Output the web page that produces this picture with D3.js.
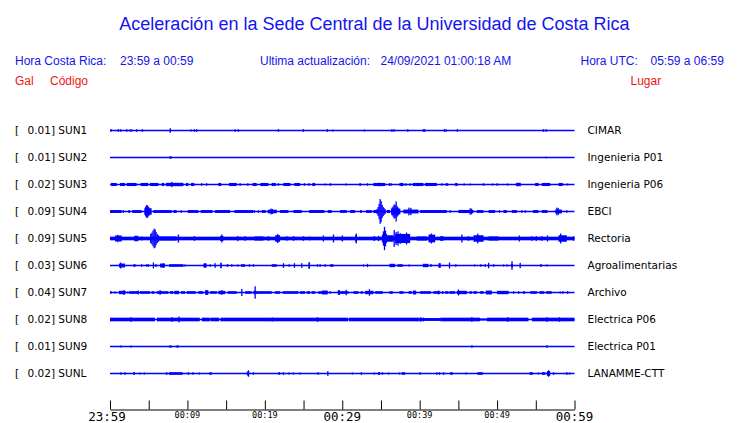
<!DOCTYPE html>
<html><head><meta charset="utf-8">
<script src="https://cdn.jsdelivr.net/npm/d3@7"></script>
<style>
body{margin:0;background:#fff;}
svg{display:block;}
</style></head>
<body>
<svg id="c" width="740" height="423"></svg>
<script>
// ---- data ----
const codes  = ["SUN1","SUN2","SUN3","SUN4","SUN5","SUN6","SUN7","SUN8","SUN9","SUNL"];
const scales = ["0.01","0.01","0.02","0.09","0.09","0.03","0.04","0.02","0.01","0.02"];
const places = ["CIMAR","Ingenieria P01","Ingenieria P06","EBCI","Rectoria","Agroalimentarias","Archivo","Electrica P06","Electrica P01","LANAMME-CTT"];
const tickMinutes = [0,5,10,15,20,25,30,35,40,45,50,55,60];
const tickLabels  = {0:"23:59",10:"00:09",20:"00:19",30:"00:29",40:"00:39",50:"00:49",60:"00:59"};
const majorTicks  = [0,30,60];

// trace envelopes: minutes since 23:59, amplitude in % of full scale
// [t, amp] = single spike, [t0, t1, amp] = burst
const sun1 = [[0.13,10],[1.07,10],[1.38,10],[2.16,10],[2.49,2.88,8],[3.45,10],[4.17,10],[7.7,7.85,18],[10.47,8],[10.89,10],[11.2,10],[16.15,10],[16.58,10],[21.75,10],[24.97,10],[28.07,10],[28.77,8],[32.86,8],[36.4,10],[36.69,10],[38.46,10],[40.4,40.74,10],[43.19,10],[43.41,10],[44.87,10],[55.98,10],[56.33,10]];
const sun2 = [[7.7,7.95,10],[56.33,6]];
const sun3 = [[0.13,0.86,12],[1.29,1.94,12],[2.15,3.44,12],[3.96,4.95,12],[5.17,6.25,12],[6.68,7.02,12],[7.24,9.48,13],[7.97,20],[9.82,10.12,12],[10.47,10.9,12],[11.84,10],[12.49,10],[14.0,14.35,12],[15.38,16.37,12],[16.8,10],[17.79,10],[18.43,18.95,12],[19.43,20.46,12],[20.89,21.41,12],[21.75,10],[22.4,23.3,12],[23.82,24.55,12],[25.11,10],[25.71,10],[26.14,26.49,12],[27.78,8],[28.47,10],[30.5,8],[32.22,32.39,12],[33.25,10],[34.03,35.54,12],[34.8,14],[36.1,10],[36.31,10],[37.39,37.91,12],[38.21,10],[38.77,10],[39.11,40.49,12],[40.7,42.21,12],[42.86,10],[43.42,10],[43.59,10],[44.58,44.88,12],[45.74,8],[46.52,8],[48.24,10],[49.41,8],[50.01,10],[51.34,8],[52.46,53.07,13],[54.92,55.35,12],[55.78,56.86,12],[57.94,58.5,12],[59.1,8]];
const sun4 = [[0.0,1.51,11],[1.72,10],[2.37,2.58,11],[2.88,4.09,11],[4.43,5.38,25],[4.6,38],[4.74,50],[4.87,46],[5.0,35],[5.6,7.97,11],[8.18,8.61,11],[9.18,10],[10.04,11.41,11],[11.72,13.22,11],[13.57,15.51,11],[16.07,18.52,11],[18.65,10],[19.17,10],[19.6,20.11,11],[20.37,21.54,14],[20.8,22],[20.95,20],[21.97,23.05,11],[23.69,24.77,11],[25.72,27.7,11],[28.13,28.64,11],[29.72,30.58,11],[31.01,31.66,11],[32.3,32.52,11],[33.08,33.81,11],[34.03,34.55,12],[34.5,20],[34.63,35],[34.76,60],[34.89,95],[35.02,80],[35.15,50],[35.28,35],[35.41,25],[35.54,18],[35.75,36.18,12],[36.3,37.5,22],[36.44,30],[36.57,40],[36.7,55],[36.83,50],[36.96,77],[37.09,40],[37.22,30],[37.9,39.84,15],[38.6,30],[38.85,28],[40.06,43.5,11],[43.94,10],[45.01,46.95,12],[46.52,25],[46.7,22],[47.38,48.24,11],[48.89,49.75,11],[50.31,10],[50.83,51.26,11],[51.9,52.55,11],[53.2,10],[53.63,10],[54.62,55.35,11],[55.78,56.51,11],[57.5,58.37,15],[57.72,30],[57.9,26],[59.0,10]];
const sun5 = [[0,60,14],[0.64,1.51,23],[1.0,28],[3.14,3.66,21],[4.09,15],[5.25,35],[5.4,45],[5.55,60],[5.7,75],[5.82,70],[5.95,50],[6.1,35],[6.25,25],[6.25,8.61,16],[8.83,31],[10.9,18],[14.22,14.65,20],[14.44,31],[16.5,20],[17.45,18],[18.65,19.82,16],[20.46,18],[21.33,21.97,25],[21.66,35],[22.83,18],[23.69,18],[24.98,18],[25.84,15],[27.56,23],[28.86,31],[30.02,23],[29.94,15],[31.66,31.88,25],[31.8,38],[34.03,34.25,18],[34.68,20],[35.2,30],[35.32,55],[35.45,90],[35.58,60],[35.7,35],[35.75,36.62,25],[36.83,38.77,35],[36.7,65],[36.95,50],[37.2,55],[37.5,40],[38.3,46],[39.63,40.93,16],[41.14,42.0,30],[41.5,38],[42.65,43.08,18],[45.45,31],[46.3,18],[46.96,48.25,25],[47.5,38],[48.9,50.19,16],[52.87,23],[54.5,18],[55.05,18],[55.78,18],[56.51,23],[57.94,59.01,25],[58.2,38],[59.87,18]];
const sun6 = [[1.16,1.94,15],[1.38,23],[3.01,3.31,10],[4.0,4.18,10],[4.74,10],[4.95,10],[5.6,23],[5.82,6.03,10],[6.46,7.11,15],[6.89,18],[7.62,9.48,10],[9.69,8],[12.06,12.49,15],[12.28,18],[12.93,10],[13.57,18],[14.22,14.44,21],[15.08,15.3,10],[15.73,10],[16.5,8],[16.93,17.45,10],[18.01,10],[18.52,10],[20.89,21.54,10],[22.4,18],[23.13,10],[23.82,18],[24.76,18],[25.62,25.84,25],[26.79,10],[27.13,10],[27.78,10],[28.43,28.86,10],[32.74,8],[33.25,13],[36.1,36.83,13],[37.13,37.82,10],[38.64,8],[40.41,41.14,13],[41.36,41.57,10],[42.43,42.73,18],[43.85,23],[44.67,10],[47.09,8],[47.9,10],[48.47,10],[48.9,21],[49.55,10],[50.84,8],[51.27,8],[51.8,52.05,12],[51.92,33],[52.98,21],[55.57,55.78,10],[56.43,8]];
const sun7 = [[0,0.21,10],[0.64,8],[1.16,2.02,13],[1.81,18],[2.28,8],[2.45,3.66,10],[3.66,15],[3.87,5.17,10],[5.38,5.73,10],[6.03,7.54,10],[6.46,18],[7.75,8.18,10],[8.31,8.91,13],[9.18,9.69,10],[9.91,11.07,10],[11.41,12.06,10],[12.28,12.71,18],[12.93,13.79,10],[14.0,14.87,13],[14.44,18],[15.21,16.37,10],[17.02,27],[17.45,18.31,10],[18.52,18.95,13],[18.74,48],[18.95,20.89,10],[21.33,21.97,10],[22.32,24.33,10],[24.55,25.19,10],[25.41,25.84,10],[26.05,26.49,10],[26.92,27.35,10],[27.35,28.13,15],[28.43,10],[29.42,29.72,18],[30.02,10],[29.72,30.8,10],[30.5,21],[31.44,32.09,10],[32.39,32.65,10],[32.95,34.03,13],[33.51,25],[34.25,35.24,10],[36.1,36.53,10],[37.39,37.91,10],[38.56,38.99,10],[39.12,39.55,15],[40.06,41.44,10],[41.78,42.65,10],[42.43,15],[42.86,43.08,10],[43.29,43.72,10],[43.85,44.58,10],[44.8,46.09,13],[45.01,23],[46.44,46.74,10],[46.96,47.39,10],[47.82,48.25,10],[48.55,49.33,15],[49.98,51.49,13],[52.13,10],[52.78,10],[53.33,53.63,10],[54.29,55.14,10],[55.48,56.09,10],[56.34,57.07,10],[58.15,8],[58.49,10],[59.1,10]];
const sun8 = [[0,5.8,14],[6.05,11.6,14],[11.85,12.9,14],[12.97,14.1,14],[14.26,30.75,14],[30.85,40.0,14],[40.0,42.65,11],[42.65,47.8,14],[47.8,48.7,8],[48.7,54.05,14],[54.5,60,14],[2.71,18],[7.97,18],[8.91,23],[20.97,15],[26.79,18],[40.15,18],[40.49,15],[46.74,18],[51.36,18],[56.43,18],[58.06,18]];
const sun9 = [[1.42,8],[2.71,8],[7.62,7.97,8],[8.61,8.83,10],[46.74,10],[56.43,10]];
const sunl = [[1.42,10],[1.85,2.02,10],[3.01,3.23,10],[3.87,8],[4.43,8],[7.32,10],[7.62,9.39,10],[10.04,10.21,10],[10.64,10.81,10],[11.54,8],[12.84,13.14,10],[17.67,17.97,15],[17.88,25],[18.52,10],[21.75,21.97,10],[22.4,10],[23.13,8],[23.69,8],[24.55,8],[26.79,26.92,10],[28.13,18],[31.31,8],[32.39,32.52,10],[34.12,8],[34.59,34.89,10],[35.19,10],[35.97,8],[37.39,8],[37.69,38.12,10],[40.06,10],[42.21,10],[42.56,10],[43.08,10],[43.94,44.28,10],[46.0,8],[47.47,48.16,10],[54.2,54.62,10],[55.35,8],[55.78,56.22,10],[56.43,56.86,18],[56.65,25],[57.29,10],[59.01,10],[59.36,8]];
const traces = [sun1,sun2,sun3,sun4,sun5,sun6,sun7,sun8,sun9,sunl];

// ---- drawing ----
const svg = d3.select("#c");
const BLUE = "#0000ff", TBLUE = "#1414f0", RED = "#f01414";
const x = d3.scaleLinear().domain([0,60]).range([110,574.5]);
const row = d3.scalePoint().domain(codes).range([130,373]);
const amp = d3.scaleLinear().domain([0,100]).range([0,13]);

// header
svg.append("text").attr("x",374.5).attr("y",30).attr("text-anchor","middle")
  .attr("font-family","Liberation Sans, Arial, sans-serif").attr("font-size",18).attr("fill",TBLUE)
  .text("Aceleración en la Sede Central de la Universidad de Costa Rica");
const hdr = [
  [15,"Hora Costa Rica:",TBLUE,64.5],[120,"23:59 a 00:59",TBLUE,64.5],
  [260,"Ultima actualización:",TBLUE,64.5],[380.5,"24/09/2021 01:00:18 AM",TBLUE,64.5],
  [580.5,"Hora UTC:",TBLUE,64.5],[650.5,"05:59 a 06:59",TBLUE,64.5],
  [15,"Gal",RED,84.5],[50,"Código",RED,84.5],[630.5,"Lugar",RED,84.5]];
svg.selectAll("text.h").data(hdr).join("text").attr("class","h")
  .attr("x",d=>d[0]).attr("y",d=>d[3]).attr("fill",d=>d[2])
  .attr("font-family","Liberation Sans, Arial, sans-serif").attr("font-size",12)
  .text(d=>d[1]);

// rows
const g = svg.append("g");
codes.forEach((c,i)=>{
  const yc = row(c);
  g.append("text").attr("x",15).attr("y",yc+4.3).attr("font-family","DejaVu Sans, sans-serif")
    .attr("font-size",10.5).attr("fill","#000").text("[");
  g.append("text").attr("x",27.5).attr("y",yc+4.3).attr("font-family","DejaVu Sans, sans-serif")
    .attr("font-size",10.5).attr("fill","#000").text(scales[i]+"] "+c);
  g.append("text").attr("x",587.5).attr("y",yc+4.3).attr("font-family","DejaVu Sans, sans-serif")
    .attr("font-size",10.5).attr("fill","#000").text(places[i]);
  g.append("line").attr("x1",x(0)).attr("x2",x(60)).attr("y1",yc+0.5).attr("y2",yc+0.5)
    .attr("stroke",BLUE).attr("stroke-width",1.3);
  g.append("g").selectAll("rect").data(traces[i]).join("rect")
    .attr("fill",BLUE)
    .attr("x",d=> d.length===2 ? x(d[0])-0.6 : x(d[0]))
    .attr("width",d=> d.length===2 ? 1.3 : Math.max(1.3, x(d[1])-x(d[0])))
    .attr("y",d=> yc+0.5-amp(d[d.length-1]))
    .attr("height",d=> 2*amp(d[d.length-1]));
});

// time axis
const axis = d3.axisTop(x).tickValues(tickMinutes).tickFormat("").tickSizeInner(9).tickSizeOuter(0);
const ag = svg.append("g").attr("transform","translate(0,409.5)").call(axis);
ag.select(".domain").attr("stroke","#000").attr("stroke-width",1);
ag.selectAll(".tick line").attr("stroke","#000").attr("stroke-width",1);
svg.selectAll("text.tl").data(Object.keys(tickLabels).map(Number)).join("text").attr("class","tl")
  .attr("x",d=>x(d)).attr("dx",d=> d===0 ? -3 : 0).attr("y",d=> majorTicks.includes(d) ? 421 : 418)
  .attr("text-anchor","middle").attr("font-family","DejaVu Sans Mono, monospace")
  .attr("font-size",d=> majorTicks.includes(d) ? 12.5 : 8.5).attr("fill","#000")
  .attr("font-weight","normal")
  .text(d=>tickLabels[d]);
</script>
</body></html>
